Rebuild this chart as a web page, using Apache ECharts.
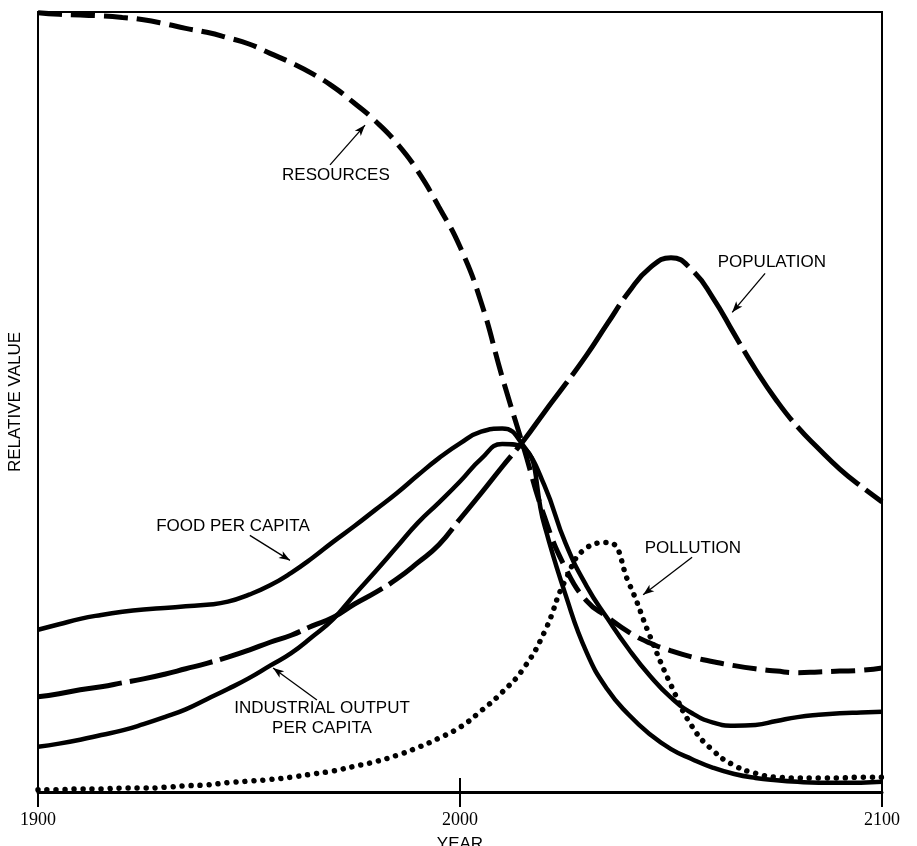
<!DOCTYPE html>
<html>
<head>
<meta charset="utf-8">
<script src="https://cdn.jsdelivr.net/npm/echarts@6/dist/echarts.min.js"></script>
<style>
html,body{margin:0;padding:0;background:#fff;}
#chart{width:917px;height:846px;}
</style>
</head>
<body>
<div id="chart"></div>
<script>
const years = [1900,1905,1910,1915,1920,1925,1930,1935,1940,1945,1950,1955,1960,1965,1970,1975,1980,1985,1990,1995,2000,2005,2010,2015,2020,2025,2030,2035,2040,2045,2050,2055,2060,2065,2070,2075,2080,2085,2090,2095,2100];
const resources = [99.9,99.7,99.6,99.5,99.3,99.0,98.5,97.9,97.4,96.7,95.9,94.7,93.5,92.1,90.4,88.3,86.0,83.2,79.6,75.0,69.9,62.8,53.2,44.3,35.3,28.7,24.5,22.4,20.5,19.1,18.1,17.3,16.7,16.2,15.8,15.5,15.3,15.4,15.5,15.6,15.9];
const population = [12.2,12.6,13.1,13.5,14.0,14.5,15.1,15.8,16.5,17.3,18.2,19.2,20.1,21.3,22.4,24.1,25.6,27.3,29.4,31.7,35.0,38.3,41.7,45.0,48.7,52.3,56.0,60.1,64.1,67.2,68.5,66.9,63.3,58.7,54.2,50.2,46.8,44.0,41.4,39.2,37.2];
const foodPerCapita = [20.8,21.5,22.2,22.7,23.1,23.4,23.6,23.8,24.0,24.4,25.3,26.5,28.1,30.0,32.1,34.1,36.2,38.3,40.6,42.8,44.7,46.2,46.6,44.4,39.3,31.9,26.4,22.2,18.3,14.9,12.1,10.1,8.9,8.5,8.6,9.1,9.6,9.9,10.1,10.2,10.3];
const industrialOutput = [5.8,6.2,6.7,7.3,7.9,8.7,9.6,10.6,11.9,13.2,14.6,16.2,17.8,19.9,22.2,25.3,28.3,31.4,34.5,37.1,39.8,42.7,44.6,44.2,34.2,25.3,17.9,13.1,9.9,7.4,5.5,4.2,3.1,2.3,1.8,1.5,1.3,1.2,1.2,1.2,1.3];
const pollution = [0.3,0.3,0.4,0.4,0.5,0.5,0.6,0.8,0.9,1.2,1.4,1.6,1.9,2.3,2.7,3.3,3.9,4.7,5.7,6.9,8.3,10.4,12.8,15.8,20.5,27.2,31.3,32.0,26.8,20.0,13.7,8.4,5.3,3.4,2.4,1.9,1.8,1.8,1.8,1.9,1.9];

const xTickYears = [1900, 2000, 2100];

// annotation labels: [text, year, value] ; arrows: [fromYear, fromValue, toYear, toValue]
const labelResources = ['RESOURCES', 1970.6, 79.0];
const arrowResources = [1969.2, 80.4, 1977.5, 85.5];
const labelPopulation = ['POPULATION', 2073.9, 67.9];
const arrowPopulation = [2072.3, 66.5, 2064.5, 61.5];
const labelFood = ['FOOD PER CAPITA', 1946.2, 34.1];
const arrowFood = [1950.2, 32.9, 1959.7, 29.7];
const labelIndustrial = ['INDUSTRIAL OUTPUT\nPER CAPITA', 1967.3, 9.4];
const arrowIndustrial = [1966.1, 11.8, 1955.7, 15.9];
const labelPollution = ['POLLUTION', 2055.2, 31.3];
const arrowPollution = [2055.0, 30.1, 2043.4, 25.3];

const SANS = '"Liberation Sans", Arial, sans-serif';
const SERIF = '"Liberation Serif", "Times New Roman", serif';

function pairs(vals){ return years.map((y,i)=>[y, vals[i]]); }

function annot(label, arrow){
  return {
    markPoint: {
      silent: true, animation: false,
      symbol: 'rect', symbolSize: 1,
      itemStyle: {color: 'rgba(0,0,0,0)'},
      label: {show: true, position: 'inside', color: '#000', fontFamily: SANS, fontSize: 17, lineHeight: 20, align: 'center'},
      data: [{coord: [label[1], label[2]], value: label[0], label: {formatter: label[0]}}]
    },
    markLine: {
      silent: true, animation: false,
      symbol: ['none', 'arrow'], symbolSize: 10,
      label: {show: false},
      lineStyle: {color: '#000', width: 1.3, type: 'solid'},
      itemStyle: {color: '#000'},
      emphasis: {disabled: true},
      data: [[
        {coord: [arrow[0], arrow[1]], symbol: 'none'},
        {coord: [arrow[2], arrow[3]], symbol: 'arrow', symbolSize: [6, 11]}
      ]]
    }
  };
}

function lineSeries(name, vals, lineStyle, label, arrow){
  return Object.assign({
    name: name, type: 'line', data: pairs(vals),
    showSymbol: false, smooth: 0.5, animation: false, silent: true,
    xAxisIndex: 0, yAxisIndex: 0,
    lineStyle: Object.assign({color: '#000'}, lineStyle)
  }, annot(label, arrow));
}

const chart = echarts.init(document.getElementById('chart'), null, {renderer: 'canvas'});
chart.setOption({
  backgroundColor: '#fff',
  grid: {left: 38, right: 35, top: 12, bottom: 54, show: true, borderColor: '#000', borderWidth: 2,
         containLabel: false, outerBoundsMode: 'none'},
  xAxis: [{
    type: 'value', min: xTickYears[0], max: xTickYears[2], interval: 100,
    position: 'bottom',
    axisLine: {show: true, lineStyle: {color: '#000', width: 3}},
    axisTick: {show: true, inside: false, length: 15, lineStyle: {color: '#000', width: 2}},
    axisLabel: {color: '#000', fontFamily: SERIF, fontSize: 18, margin: 19, formatter: v => String(v)},
    splitLine: {show: false},
    name: 'YEAR', nameLocation: 'middle', nameGap: 44,
    nameTextStyle: {color: '#000', fontFamily: SANS, fontSize: 17}
  }, {
    type: 'value', min: xTickYears[0], max: xTickYears[2], interval: 100,
    position: 'bottom',
    axisLine: {show: false},
    axisTick: {show: true, inside: true, length: 14, lineStyle: {color: '#000', width: 2}},
    axisLabel: {show: false},
    splitLine: {show: false}
  }],
  yAxis: {
    type: 'value', min: 0, max: 100,
    axisLine: {show: true, lineStyle: {color: '#000', width: 2}},
    axisTick: {show: false}, axisLabel: {show: false}, splitLine: {show: false},
    name: 'RELATIVE VALUE', nameLocation: 'middle', nameGap: 14, nameRotate: 90,
    nameTextStyle: {color: '#000', fontFamily: SANS, fontSize: 17}
  },
  series: [
    lineSeries('Resources', resources, {width: 5, type: [24, 9], cap: 'butt'}, labelResources, arrowResources),
    lineSeries('Population', population, {width: 5, type: [85, 8], cap: 'butt'}, labelPopulation, arrowPopulation),
    lineSeries('Food per capita', foodPerCapita, {width: 4.5}, labelFood, arrowFood),
    lineSeries('Industrial output per capita', industrialOutput, {width: 4.5}, labelIndustrial, arrowIndustrial),
    lineSeries('Pollution', pollution, {width: 5.5, type: [0.01, 9], cap: 'round'}, labelPollution, arrowPollution)
  ]
});
</script>
</body>
</html>
